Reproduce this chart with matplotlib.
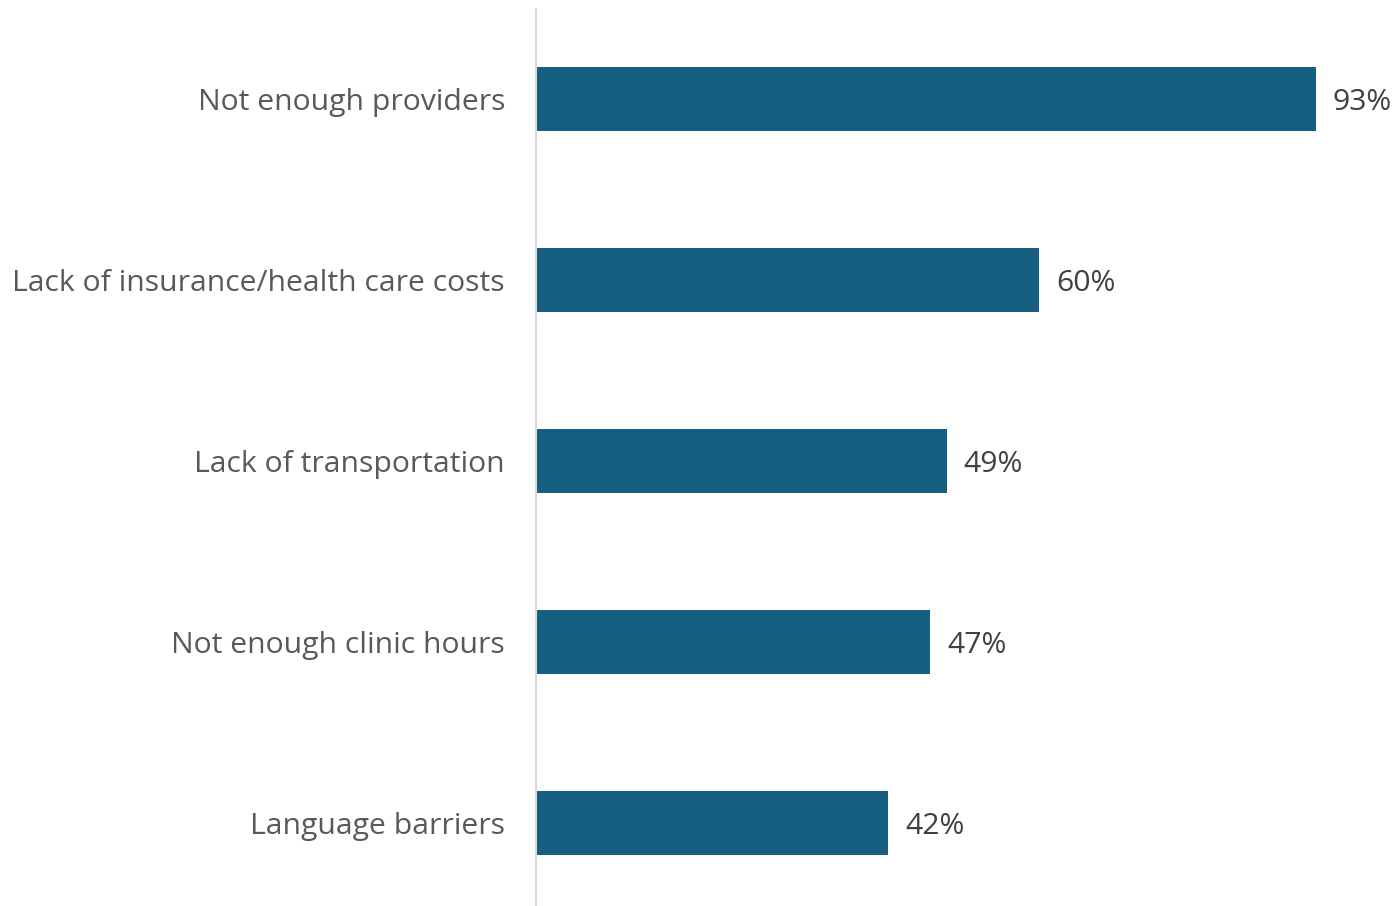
import matplotlib
matplotlib.use("Agg")
import matplotlib.pyplot as plt

categories = [
    "Not enough providers",
    "Lack of insurance/health care costs",
    "Lack of transportation",
    "Not enough clinic hours",
    "Language barriers",
]
values = [93, 60, 49, 47, 42]
value_labels = ["93%", "60%", "49%", "47%", "42%"]

plt.rcParams["font.family"] = ["Open Sans", "DejaVu Sans"]

W, H = 1399, 906
fig = plt.figure(figsize=(W / 100, H / 100), dpi=100)
left_px, top_px, bottom_px = 536, 8.5, 913.5
ax = fig.add_axes([left_px / W, 1 - bottom_px / H,
                   (W - left_px) / W, (bottom_px - top_px) / H])

y = list(range(len(categories)))
ax.barh(y, values, height=0.354, color="#175F80")
ax.set_ylim(len(categories) - 0.5, -0.5)
ax.set_xlim(0, (W - left_px) / 8.387)

for yi, v, lab in zip(y, values, value_labels):
    ax.text(v + 2.0, yi, lab, va="center_baseline", ha="left",
            fontsize=21.7, color="#404040")

ax.set_yticks(y)
ax.set_yticklabels(categories, fontsize=21.7, color="#595959")
ax.tick_params(axis="y", length=0, pad=22.3)
ax.set_xticks([])
for s in ("top", "right", "bottom"):
    ax.spines[s].set_visible(False)
ax.spines["left"].set_color("#d9d9d9")
ax.spines["left"].set_linewidth(1.5)

fig.savefig("out.png", dpi=100)
